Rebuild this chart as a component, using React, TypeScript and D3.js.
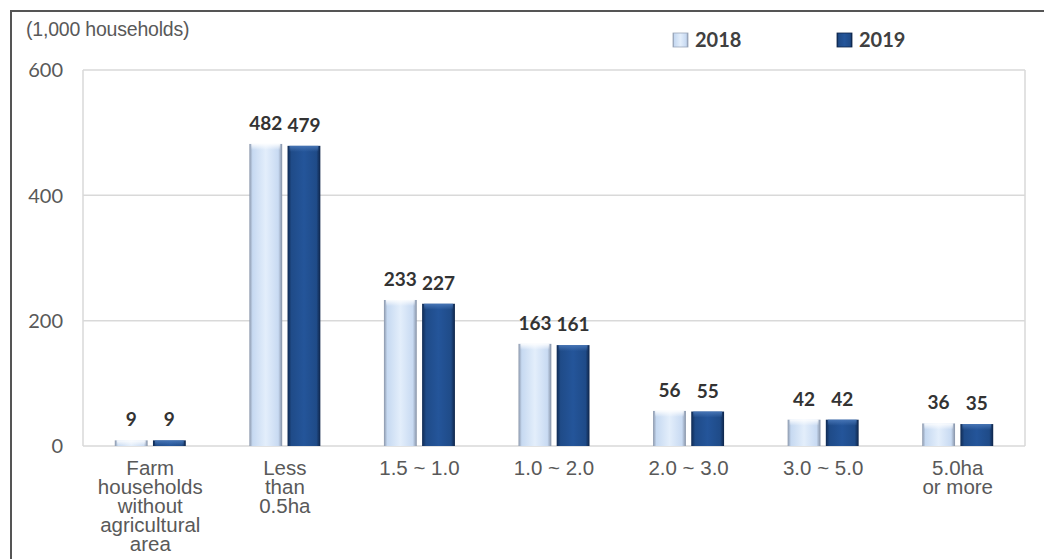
import React from "react";
import * as d3 from "d3";

const categories = [
  "Farm\nhouseholds\nwithout\nagricultural\narea",
  "Less\nthan\n0.5ha",
  "1.5 ~ 1.0",
  "1.0 ~ 2.0",
  "2.0 ~ 3.0",
  "3.0 ~ 5.0",
  "5.0ha\nor more",
];
const series = ["2018", "2019"];
const values2018 = [9, 482, 233, 163, 56, 42, 36];
const values2019 = [9, 479, 227, 161, 55, 42, 35];
const yTicks = [0, 200, 400, 600];
const unitLabel = "(1,000 households)";

const W = 1044;
const H = 559;
const plot = { left: 83, right: 1025, top: 70, bottom: 446 };

export default function App() {
  const x0 = d3.scaleBand<string>().domain(categories).range([plot.left, plot.right]).paddingInner(0).paddingOuter(0);
  const groupW = 71;
  const x1 = d3.scaleBand<string>().domain(series).range([0, groupW]).paddingInner(0.14);
  const y = d3.scaleLinear().domain([0, 600]).range([plot.bottom, plot.top]);
  const data = [values2018, values2019];
  const tickFont = "Lato, 'Open Sans', sans-serif";
  const armFont = "'Liberation Sans', Arial, sans-serif";

  return (
    <svg width={W} height={H} style={{ position: "absolute", left: 0, top: 0, background: "#fff" }}>
      <defs>
        <linearGradient id="g2018" x1="0" x2="1" y1="0" y2="0">
          <stop offset="0" stopColor="#8a96aa" />
          <stop offset="0.1" stopColor="#c6d9f1" />
          <stop offset="0.5" stopColor="#e3eefb" />
          <stop offset="0.88" stopColor="#c8daf2" />
          <stop offset="1" stopColor="#8692a6" />
        </linearGradient>
        <linearGradient id="g2019" x1="0" x2="1" y1="0" y2="0">
          <stop offset="0" stopColor="#102a52" />
          <stop offset="0.12" stopColor="#1f4b88" />
          <stop offset="0.5" stopColor="#24559a" />
          <stop offset="0.88" stopColor="#1f4b88" />
          <stop offset="1" stopColor="#0e2448" />
        </linearGradient>
        <linearGradient id="t2018" x1="0" x2="0" y1="0" y2="1">
          <stop offset="0" stopColor="#ffffff" stopOpacity="0.9" />
          <stop offset="1" stopColor="#ffffff" stopOpacity="0" />
        </linearGradient>
        <linearGradient id="t2019" x1="0" x2="0" y1="0" y2="1">
          <stop offset="0" stopColor="#4a78b8" stopOpacity="0.9" />
          <stop offset="1" stopColor="#4a78b8" stopOpacity="0" />
        </linearGradient>
      </defs>

      {/* outer frame */}
      <line x1={10} x2={W} y1={11} y2={11} stroke="#555" strokeWidth={2} />
      <line x1={11} x2={11} y1={10} y2={H} stroke="#555" strokeWidth={2} />

      {/* gridlines & plot border */}
      {yTicks.map((t) => (
        <line key={t} x1={plot.left} x2={plot.right} y1={y(t)} y2={y(t)} stroke="#d9d9d9" strokeWidth={1.5} />
      ))}
      <line x1={plot.left} x2={plot.left} y1={plot.top} y2={plot.bottom} stroke="#d9d9d9" strokeWidth={1.5} />
      <line x1={plot.right} x2={plot.right} y1={plot.top} y2={plot.bottom} stroke="#d9d9d9" strokeWidth={1.5} />

      {/* y tick labels */}
      {yTicks.map((t) => (
        <text key={t} x={63} y={y(t)} dy="0.36em" textAnchor="end" fontFamily={tickFont} fontSize={20} fill="#595959">
          {t}
        </text>
      ))}

      <text x={26} y={36} fontFamily={armFont} fontSize={19.5} fill="#595959" letterSpacing={-0.2}>
        {unitLabel}
      </text>

      {/* legend */}
      {series.map((s, i) => {
        const lx = [673, 837][i];
        return (
          <g key={s}>
            <rect x={lx} y={33} width={15} height={14} fill={`url(#g${s})`} stroke={i === 0 ? "#9aa6b8" : "#0e2448"} strokeWidth={0.8} />
            <text x={lx + 22} y={40} dy="0.36em" fontFamily={tickFont} fontWeight="bold" fontSize={20} fill="#404040">
              {s}
            </text>
          </g>
        );
      })}

      {/* bars */}
      {categories.map((c, ci) => {
        const cx = x0(c)! + x0.bandwidth() / 2;
        const gx = cx - groupW / 2;
        return (
          <g key={c}>
            {series.map((s, si) => {
              const v = data[si][ci];
              const bx = gx + x1(s)!;
              const bw = x1.bandwidth();
              const top = y(v);
              const h = y(0) - top;
              return (
                <g key={s}>
                  <rect x={bx} y={top} width={bw} height={h} fill={`url(#g${s})`} />
                  <rect x={bx + 2} y={top} width={bw - 4} height={Math.min(6, h)} fill={`url(#t${s})`} />
                  <text x={bx + bw / 2} y={top - 14} textAnchor="middle" fontFamily={tickFont} fontWeight="bold" fontSize={19} fill="#333">
                    {v}
                  </text>
                </g>
              );
            })}
            <text x={cx} y={475} textAnchor="middle" fontFamily={armFont} fontSize={20.5} fill="#595959">
              {c.split("\n").map((line, li) => (
                <tspan key={li} x={cx} dy={li === 0 ? 0 : 19}>
                  {line}
                </tspan>
              ))}
            </text>
          </g>
        );
      })}
    </svg>
  );
}
